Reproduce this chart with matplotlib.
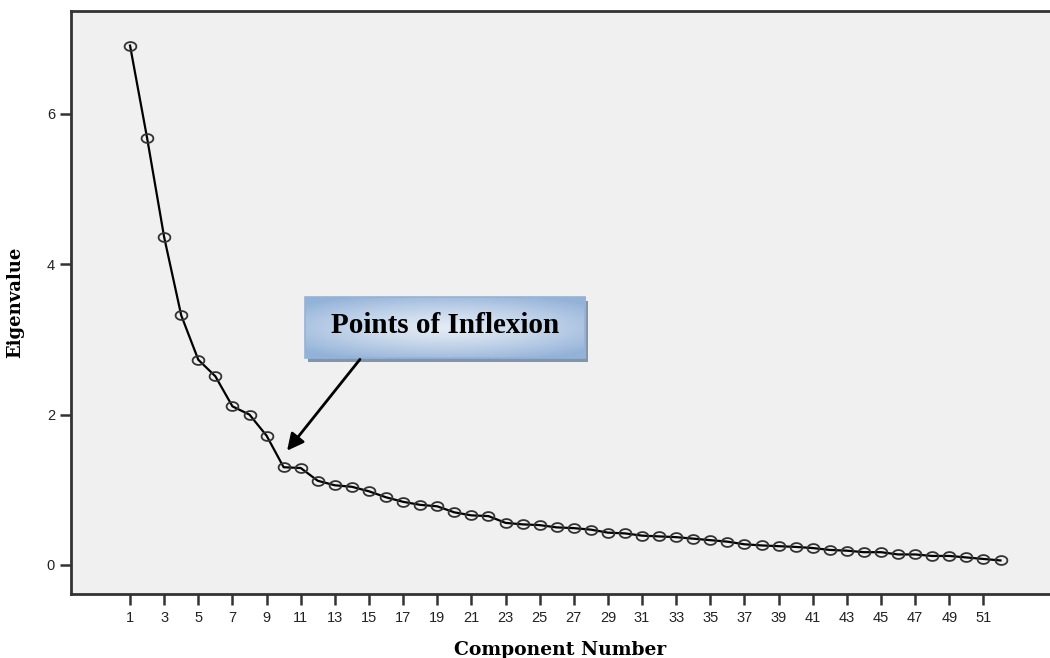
import numpy as np
import matplotlib
matplotlib.use("Agg")
import matplotlib.pyplot as plt
from matplotlib.path import Path
from matplotlib.patches import Rectangle

# Valeurs propres (scree plot)
components = list(range(1, 53))
eigenvalues = [6.91, 5.68, 4.36, 3.32, 2.73, 2.51, 2.11, 2.00, 1.72, 1.30,
               1.29, 1.12, 1.06, 1.04, 0.98, 0.90, 0.84, 0.80, 0.78, 0.70,
               0.66, 0.65, 0.56, 0.54, 0.53, 0.50, 0.49, 0.47, 0.43, 0.42,
               0.39, 0.38, 0.37, 0.35, 0.33, 0.31, 0.275, 0.26, 0.25, 0.24,
               0.225, 0.20, 0.19, 0.17, 0.17, 0.14, 0.14, 0.12, 0.12, 0.10,
               0.08, 0.06]
xtick_values = list(range(1, 52, 2))
ytick_values = [0, 2, 4, 6]
annotation_text = "Points of Inflexion"

# marqueur en ellipse (un peu plus large que haut, comme SPSS)
t = np.linspace(0, 2 * np.pi, 40)
ellipse = Path(np.column_stack([np.cos(t), 0.75 * np.sin(t)]))

fig = plt.figure(figsize=(10.5, 6.58), dpi=100)
ax = fig.add_axes([0.0676, 0.0973, 0.9324, 0.886])
ax.set_facecolor("#f0f0f0")

ax.plot(components, eigenvalues, color="black", linewidth=1.6,
        marker=ellipse, markersize=8.5, markerfacecolor="none",
        markeredgecolor="#333333", markeredgewidth=1.3)

ax.set_xticks(xtick_values)
ax.set_yticks(ytick_values)
ax.tick_params(axis="both", direction="out", length=8, width=1.8,
               color="#333333", labelsize=10.5, labelcolor="#222222")
ax.tick_params(axis="x", pad=4)
for lab in ax.get_xticklabels() + ax.get_yticklabels():
    lab.set_family("Liberation Sans")

ax.spines["right"].set_visible(False)
for s in ["left", "bottom", "top"]:
    ax.spines[s].set_linewidth(2)
    ax.spines[s].set_color("#333333")

ax.set_xlabel("Component Number", family="DejaVu Serif", fontweight="bold",
              fontsize=13.5, labelpad=12)
ax.set_ylabel("Eigenvalue", family="DejaVu Serif", fontweight="bold",
              fontsize=13, labelpad=16)

# boîte d'annotation avec ombre et dégradé
bx0, bx1, by0, by1 = 11.25, 27.66, 2.75, 3.56
ax.add_patch(Rectangle((bx0 + 0.2, by0 - 0.05), bx1 - bx0, by1 - by0,
                       facecolor="#8494ab", edgecolor="none", zorder=4))
xs = np.linspace(-1, 1, 200)
ys = np.linspace(-1, 1, 60)
X, Y = np.meshgrid(xs, ys)
r = np.clip(np.sqrt((X * 0.75) ** 2 + (Y * 0.85) ** 2), 0, 1) ** 1.3
c_in = np.array([0.89, 0.92, 0.96])
c_out = np.array([0.58, 0.70, 0.85])
rgb = c_in[None, None, :] * (1 - r[..., None]) + c_out[None, None, :] * r[..., None]
ax.imshow(rgb, extent=(bx0, bx1, by0, by1), aspect="auto", zorder=5,
          interpolation="bilinear")
ax.add_patch(Rectangle((bx0, by0), bx1 - bx0, by1 - by0,
                       facecolor="none", edgecolor="#95b3d7", linewidth=1.2,
                       zorder=6))
ax.text((bx0 + bx1) / 2, (by0 + by1) / 2 + 0.03, annotation_text,
        family="Liberation Serif", fontweight="bold", fontsize=21,
        ha="center", va="center", zorder=7)
ax.annotate("", xy=(10.2, 1.52), xytext=(14.47, 2.735),
            arrowprops=dict(arrowstyle="-|>", color="black", lw=2,
                            mutation_scale=25, shrinkA=0, shrinkB=0),
            zorder=7)
ax.set_xlim(-2.46, 54.9)
ax.set_ylim(-0.386, 7.37)

fig.savefig("out.png", dpi=100)
